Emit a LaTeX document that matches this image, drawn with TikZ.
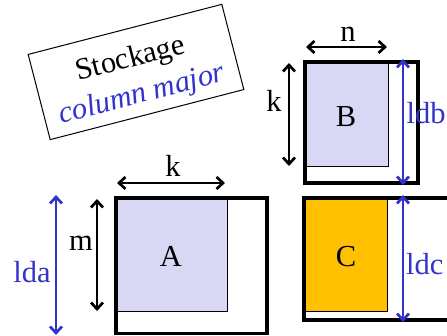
\documentclass[tikz,border=0pt]{standalone}
\usepackage{fontspec}
\newfontfamily\lserif{LiberationSerif}[Extension=.ttf, UprightFont=*-Regular, ItalicFont=*-Italic, BoldFont=*-Bold]
\usetikzlibrary{arrows.meta}
\definecolor{lblue}{RGB}{51,51,204}
\definecolor{lav}{RGB}{216,216,244}
\definecolor{gold}{RGB}{255,192,0}
\tikzset{
  outerbox/.style={draw=black, line width=3.2pt},
  innerbox/.style={draw=black, line width=1pt},
  dimarrow/.style={line width=2.7pt, {Straight Barb[length=6.5pt,width=12pt]}-{Straight Barb[length=6.5pt,width=12pt]}},
  lbl/.style={inner sep=0pt, font=\lserif\fontsize{30.5}{34}\selectfont},
}
\begin{document}
\begin{tikzpicture}[x=1pt,y=1pt]
\useasboundingbox (0,0) rectangle (447,336);
\clip (0,0) rectangle (447,336);
% title box
\begin{scope}[shift={(136,264)}, rotate=14.5]
\node[draw=black, line width=1pt, minimum width=200pt, minimum height=88pt, inner sep=0pt, transform shape] (title) at (0,0) {};
\node[lbl, transform shape] (t1) at (-2,13) {Stockage};
\node[lbl, transform shape, text=lblue] (t2) at (0,-24) {\itshape column major};
\end{scope}
% matrix B
\coordinate (Bo1) at (305,153);
\coordinate (Bo2) at (418,274);
\draw[innerbox, fill=lav] (305,169) rectangle (388,274);
\draw[outerbox] (Bo1) rectangle (Bo2);
\node[lbl, anchor=base] (Blab) at (346,209) {B};
\coordinate (n1) at (306,289); \coordinate (n2) at (387,289);
\draw[dimarrow] (n1) -- (n2);
\node[lbl, anchor=base] (nlab) at (348,294) {n};
\coordinate (kb1) at (289,273); \coordinate (kb2) at (289,170);
\draw[dimarrow] (kb1) -- (kb2);
\node[lbl, anchor=base] (kblab) at (274,224) {k};
\coordinate (ldb1) at (403,277); \coordinate (ldb2) at (403,151);
\draw[dimarrow, draw=lblue] (ldb1) -- (ldb2);
\node[lbl, anchor=base west, text=lblue] (ldblab) at (406.5,212) {ldb};
% matrix A
\draw[innerbox, fill=lav] (116,24) rectangle (227,138);
\draw[outerbox] (116,2.5) rectangle (267,138);
\node[lbl, anchor=base] (Alab) at (171,69) {A};
\coordinate (ka1) at (117,153); \coordinate (ka2) at (225,153);
\draw[dimarrow] (ka1) -- (ka2);
\node[lbl, anchor=base] (kalab) at (173,159) {k};
\coordinate (m1) at (97,137); \coordinate (m2) at (97,25);
\draw[dimarrow] (m1) -- (m2);
\node[lbl, anchor=base] (mlab) at (81,85) {m};
\coordinate (lda1) at (56,141); \coordinate (lda2) at (56,1);
\draw[dimarrow, draw=lblue] (lda1) -- (lda2);
\node[lbl, anchor=base, text=lblue] (ldalab) at (32,53) {lda};
% matrix C
\draw[innerbox, fill=gold] (305,24) rectangle (387,138);
\draw[outerbox] (304,16) rectangle (470,138);
\node[lbl, anchor=base] (Clab) at (346,69) {C};
\coordinate (ldc1) at (403,141); \coordinate (ldc2) at (403,14);
\draw[dimarrow, draw=lblue] (ldc1) -- (ldc2);
\node[lbl, anchor=base west, text=lblue] (ldclab) at (406,61) {ldc};
\end{tikzpicture}
\end{document}
